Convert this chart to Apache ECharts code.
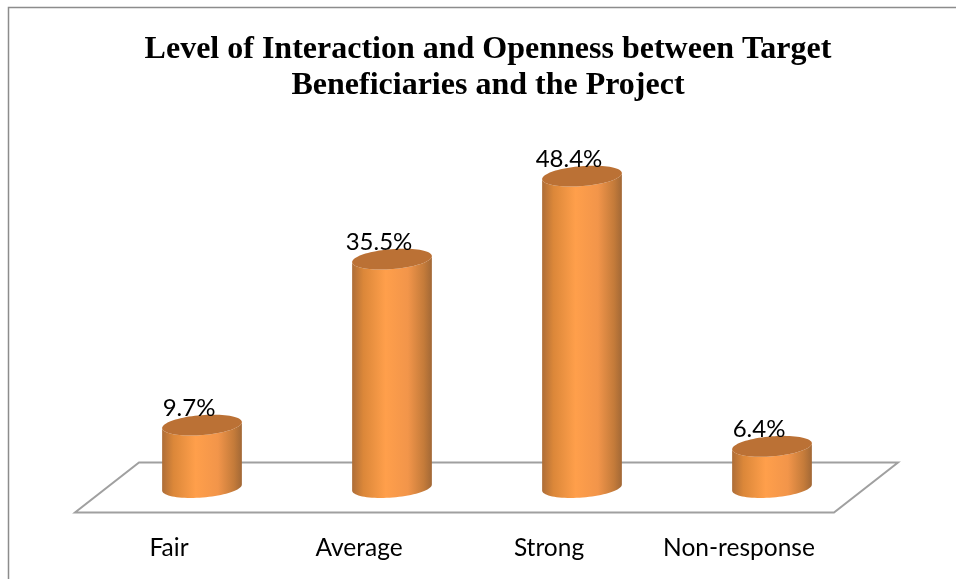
<!DOCTYPE html>
<html>
<head>
<meta charset="utf-8">
<style>
    html, body {margin: 0; padding: 0; background: #fff;}
    #statistics {width: 956px; height: 579px;}
</style>
</head>
<body>
<div id="statistics"></div>
<script src="https://cdn.jsdelivr.net/npm/echarts@6/dist/echarts.min.js"></script>
<script>
    var categories = ['Fair', 'Average', 'Strong', 'Non-response'];
    var percents = [9.7, 35.5, 48.4, 6.4];

    // tilted ellipse, t1..t2 in radians, used for the cylinder caps
    function arc(cx, cy, rx, ry, tilt, t1, t2, n) {
        var pts = [];
        for (var i = 0; i <= n; i++) {
            var t = t1 + (t2 - t1) * i / n;
            var ex = rx * Math.cos(t), ey = ry * Math.sin(t);
            pts.push([
                cx + ex * Math.cos(tilt) - ey * Math.sin(tilt),
                cy + ex * Math.sin(tilt) + ey * Math.cos(tilt)
            ]);
        }
        return pts;
    }

    function cylinder(params, api) {
        var top = api.coord([api.value(0), api.value(1)]);
        var bottom = api.coord([api.value(0), 0]);
        var rx = 40, ry = 10, tilt = -0.08;
        // bottom half of the lower cap, then back along the upper cap
        var side = arc(bottom[0], bottom[1], rx, ry, tilt, 0, Math.PI, 40)
            .concat(arc(top[0], top[1], rx, ry, tilt, Math.PI, 0, 40));
        return {
            type: 'group',
            children: [
                {
                    type: 'polygon',
                    shape: {points: side},
                    style: {
                        fill: new echarts.graphic.LinearGradient(0, 0, 1, 0, [
                            {offset: 0, color: '#AD6D38'},
                            {offset: 0.14, color: '#DB8739'},
                            {offset: 0.42, color: '#FF9F4B'},
                            {offset: 0.7, color: '#F2954A'},
                            {offset: 0.9, color: '#C47B3A'},
                            {offset: 1, color: '#A26836'}
                        ])
                    }
                },
                {
                    type: 'polygon',
                    shape: {points: arc(top[0], top[1], rx, ry, tilt, 0, Math.PI * 2, 80)},
                    style: {fill: '#BB7135'}
                },
                {
                    type: 'text',
                    style: {
                        text: api.value(1).toFixed(1) + '%',
                        x: top[0] - 13,
                        y: top[1] - 5,
                        align: 'center',
                        verticalAlign: 'bottom',
                        font: '24px Lato',
                        fill: '#000'
                    }
                }
            ]
        };
    }

    var myChart = echarts.init(document.getElementById('statistics'), null, {renderer: 'canvas'});

    var option = {
        animation: false,
        backgroundColor: '#fff',
        title: {
            text: 'Level of Interaction and Openness between Target\nBeneficiaries and the Project',
            left: 483,
            top: 27,
            textAlign: 'center',
            textStyle: {
                fontFamily: 'Liberation Serif',
                fontWeight: 'bold',
                fontSize: 32,
                lineHeight: 36,
                color: '#000'
            }
        },
        grid: {left: 107, right: 89, top: 101.5, bottom: 91.5},
        xAxis: {
            type: 'category',
            data: categories,
            axisLine: {show: false},
            axisTick: {show: false},
            axisLabel: {
                interval: 0,
                margin: 48,
                // labels sit left of the cylinders in the original
                padding: [0, 66, 0, 0],
                fontFamily: 'Lato',
                fontSize: 24.5,
                color: '#000'
            }
        },
        yAxis: {type: 'value', min: 0, max: 60, show: false},
        // outer frame and chart floor
        graphic: [
            {
                type: 'polyline',
                silent: true,
                z: -1,
                shape: {points: [[8.5, 579], [8.5, 7.5], [956, 7.5]]},
                style: {stroke: '#8C8C8C', lineWidth: 1.5, fill: null}
            },
            {
                type: 'polygon',
                silent: true,
                z: -1,
                shape: {points: [[75, 512.5], [834, 512.5], [898, 462.5], [139, 462.5]]},
                style: {stroke: '#A0A0A0', lineWidth: 2, fill: '#fff'}
            }
        ],
        series: [
            {
                type: 'custom',
                renderItem: cylinder,
                encode: {x: 0, y: 1},
                data: percents.map(function (v, i) { return [i, v]; }),
                z: 5
            }
        ]
    };

    myChart.setOption(option);
</script>
</body>
</html>
